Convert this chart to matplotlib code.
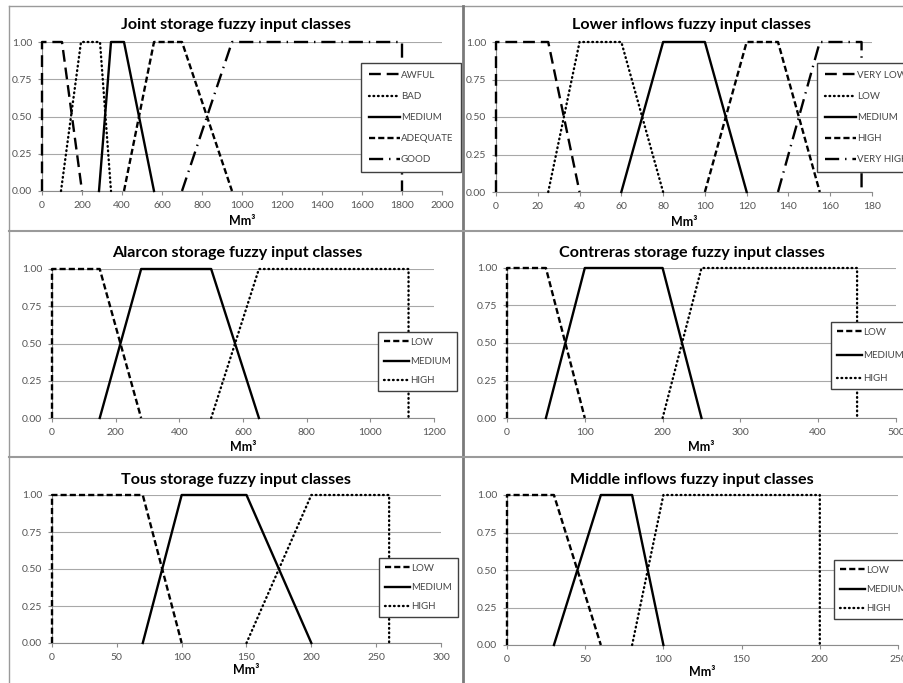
import matplotlib
matplotlib.use("Agg")
import matplotlib.pyplot as plt
from matplotlib.lines import Line2D
from matplotlib.ticker import FormatStrFormatter

plt.rcParams["font.family"] = ["Lato", "DejaVu Sans"]

# membership values of every trapezoid (4 breakpoints each)
trap_y = [0, 1, 1, 0]
membership_ticks = [0, 0.25, 0.5, 0.75, 1.0]

joint_names = ["AWFUL", "BAD", "MEDIUM", "ADEQUATE", "GOOD"]
joint_x = [[0, 0, 100, 200], [95, 195, 290, 345], [285, 345, 410, 560],
           [410, 560, 700, 950], [700, 950, 1800, 1800]]
joint_ticks = [0, 200, 400, 600, 800, 1000, 1200, 1400, 1600, 1800, 2000]

lower_names = ["VERY LOW", "LOW", "MEDIUM", "HIGH", "VERY HIGH"]
lower_x = [[0, 0, 25, 40], [25, 40, 60, 80], [60, 80, 100, 120],
           [100, 120, 135, 155], [135, 155, 175, 175]]
lower_ticks = [0, 20, 40, 60, 80, 100, 120, 140, 160, 180]

three_names = ["LOW", "MEDIUM", "HIGH"]

alarcon_x = [[0, 0, 150, 280], [150, 280, 500, 650], [500, 650, 1120, 1120]]
alarcon_ticks = [0, 200, 400, 600, 800, 1000, 1200]

contreras_x = [[0, 0, 50, 100], [50, 100, 200, 250], [200, 250, 450, 450]]
contreras_ticks = [0, 100, 200, 300, 400, 500]

tous_x = [[0, 0, 70, 100], [70, 100, 150, 200], [150, 200, 260, 260]]
tous_ticks = [0, 50, 100, 150, 200, 250, 300]

middle_x = [[0, 0, 30, 60], [30, 60, 80, 100], [80, 100, 200, 200]]
middle_ticks = [0, 50, 100, 150, 200, 250]

LONG_DASH = (0, (5, 2.5))
DOTTED = (0, (0.3, 1.6))
DASHED = (0, (2.6, 1.3))
DASH_DOT = (0, (6, 2.5, 0.6, 2.5))
five_styles = [LONG_DASH, DOTTED, "-", DASHED, DASH_DOT]
three_styles = [DASHED, "-", DOTTED]

W, H = 904, 683
fig = plt.figure(figsize=(W / 100, H / 100), dpi=100)
fig.patch.set_facecolor("white")


def fx(x):
    return x / W


def fy(y):
    return 1 - y / H


def panel(title, names, xs, ticks, styles, box, cx, title_y, label_y, leg_xy,
          labelspacing=1.05, handlelength=2.6, borderpad=0.6):
    x0, y0, x1, y1 = box
    ax = fig.add_axes([fx(x0), fy(y1), fx(x1 - x0), (y1 - y0) / H])
    for name, xv, ls in zip(names, xs, styles):
        ax.plot(xv, trap_y, color="black", lw=1.7, linestyle=ls,
                dash_capstyle="round" if ls == DOTTED else "butt",
                label=name, clip_on=False, zorder=3)
    ax.set_xlim(ticks[0], ticks[-1])
    ax.set_ylim(0, 1)
    ax.set_xticks(ticks)
    ax.set_yticks(membership_ticks)
    ax.yaxis.set_major_formatter(FormatStrFormatter("%.2f"))
    ax.grid(axis="y", color="#a8a8a8", lw=0.8)
    ax.set_axisbelow(True)
    for s in ["top", "right"]:
        ax.spines[s].set_visible(False)
    for s in ["left", "bottom"]:
        ax.spines[s].set_color("#8c8c8c")
        ax.spines[s].set_linewidth(0.8)
    ax.tick_params(direction="out", length=3, width=0.8, color="#8c8c8c",
                   labelsize=7.5, labelcolor="#555555", pad=4)
    fig.text(fx(cx), fy(title_y), title, ha="center", va="center",
             fontsize=11.6, fontweight="bold")
    fig.text(fx((x0 + x1) / 2), fy(label_y), "Mm³", ha="center", va="center",
             fontsize=9, fontweight="bold")
    leg = ax.legend(loc="upper left", bbox_to_anchor=(fx(leg_xy[0]), fy(leg_xy[1])),
                    bbox_transform=fig.transFigure, fontsize=7, frameon=True,
                    fancybox=False, edgecolor="#404040", framealpha=1,
                    borderaxespad=0, handlelength=handlelength, handletextpad=0.1,
                    labelspacing=labelspacing, borderpad=borderpad)
    leg.get_frame().set_linewidth(1.0)
    for t in leg.get_texts():
        t.set_color("#454545")
    return ax


panel("Joint storage fuzzy input classes", joint_names, joint_x, joint_ticks,
      five_styles, (42, 42, 442, 191), 236, 25, 221, (361, 63),
      labelspacing=1.25, handlelength=3.2, borderpad=0.8)
panel("Lower inflows fuzzy input classes", lower_names, lower_x, lower_ticks,
      five_styles, (496, 42, 872, 192), 692, 25, 222, (817, 63),
      labelspacing=1.25, handlelength=3.2, borderpad=0.8)
panel("Alarcon storage fuzzy input classes", three_names, alarcon_x, alarcon_ticks,
      three_styles, (52, 269, 434, 418), 237, 253, 447, (378, 332))
panel("Contreras storage fuzzy input classes", three_names, contreras_x, contreras_ticks,
      three_styles, (507, 268, 896, 418), 692, 253, 447, (831, 322), labelspacing=1.45)
panel("Tous storage fuzzy input classes", three_names, tous_x, tous_ticks,
      three_styles, (52, 495, 441, 643), 236, 480, 670, (379, 558))
panel("Middle inflows fuzzy input classes", three_names, middle_x, middle_ticks,
      three_styles, (507, 495, 898, 645), 692, 480, 672, (834, 560))

# chart-area borders of the six pasted panels
borders = [
    ((9, 904), (6, 6), "#9a9a9a", 1.0),
    ((9, 9), (6, 683), "#9a9a9a", 1.0),
    ((463, 463), (6, 683), "#7a7a7a", 2.0),
    ((9, 904), (231, 231), "#9a9a9a", 1.5),
    ((9, 904), (457, 457), "#9a9a9a", 1.5),
]
for xs_, ys_, c, lw in borders:
    fig.add_artist(Line2D([fx(v) for v in xs_], [fy(v) for v in ys_],
                          transform=fig.transFigure, color=c, lw=lw))

fig.savefig("out.png", dpi=100)
